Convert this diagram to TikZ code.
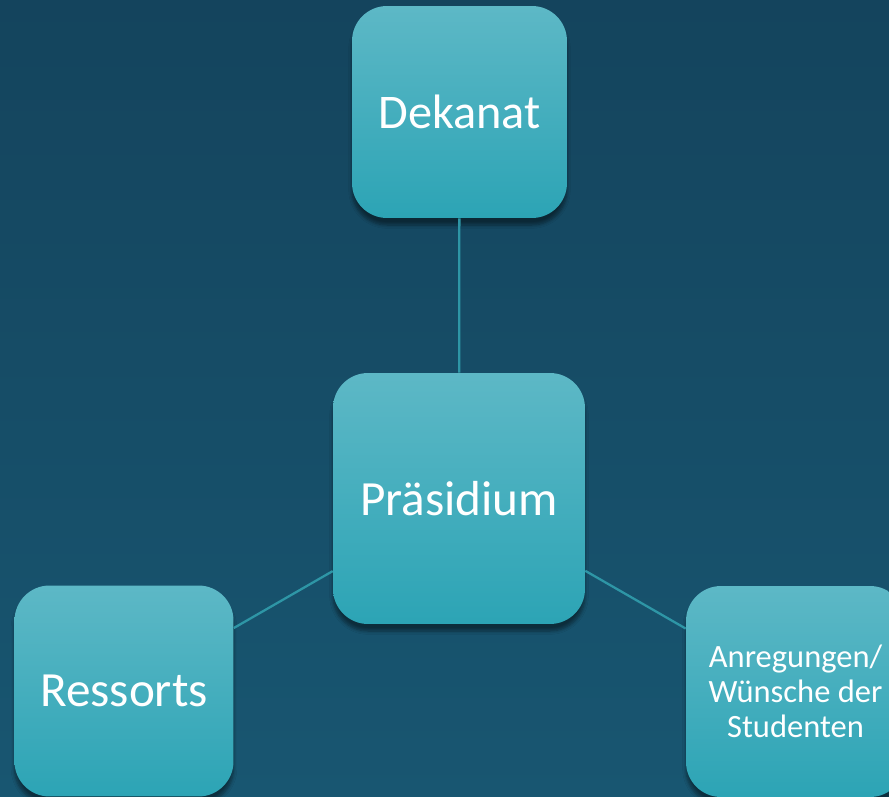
\documentclass[tikz,border=0pt]{standalone}
\usepackage{fontspec}
\setmainfont{Carlito}
\usetikzlibrary{shadows.blur}
\definecolor{bgtop}{RGB}{20,68,93}
\definecolor{bgbot}{RGB}{24,86,113}
\definecolor{boxtop}{RGB}{93,184,198}
\definecolor{boxbot}{RGB}{44,164,181}
\definecolor{link}{RGB}{46,150,166}
\begin{document}
\begin{tikzpicture}[x=0.02cm,y=-0.02cm,
  unit/.style={rectangle, rounded corners=0.7cm, top color=boxtop, bottom color=boxbot,
    text=white, align=center, inner sep=0pt,
    blur shadow={shadow xshift=0pt, shadow yshift=-4pt, shadow blur steps=6, shadow opacity=45}},
  link/.style={draw=link, line width=1.3pt}]
\clip (0,0) rectangle (889,797);
\shade[top color=bgtop, bottom color=bgbot] (0,0) rectangle (889,797);
\node[unit, minimum width=4.3cm, minimum height=4.24cm, font=\fontsize{27.5}{32}\selectfont] (dekanat) at (459.5,112) {Dekanat};
\node[unit, minimum width=5.04cm, minimum height=5.02cm, font=\fontsize{28}{32}\selectfont] (praes) at (459,498.5) {Präsidium};
\node[unit, minimum width=4.38cm, minimum height=4.22cm, font=\fontsize{28}{32}\selectfont] (ressorts) at (124,691) {Ressorts};
\node[unit, minimum width=4.38cm, minimum height=4.22cm, font=\fontsize{18.5}{20}\selectfont] (wuensche) at (795.5,691.5) {Anregungen/\\Wünsche der\\Studenten};
\draw[link] (dekanat) -- (praes);
\draw[link] (praes) -- (ressorts);
\draw[link] (praes) -- (wuensche);
\end{tikzpicture}
\end{document}
